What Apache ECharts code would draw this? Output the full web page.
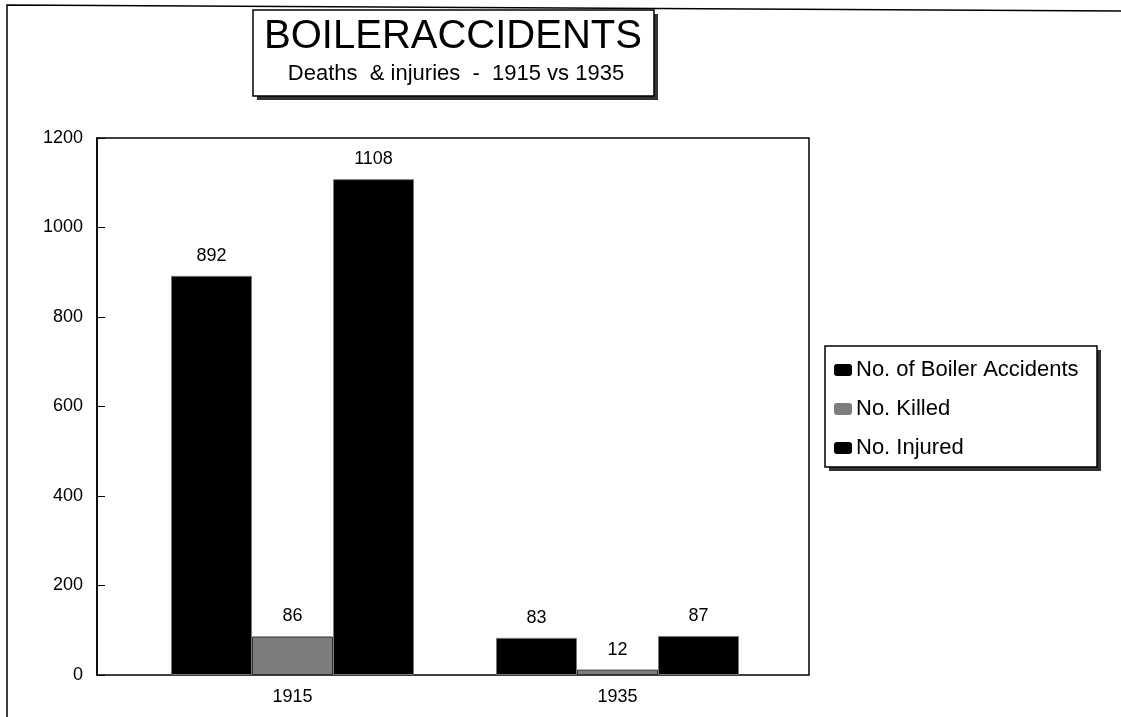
<!DOCTYPE html>
<html>
<head>
<meta charset="utf-8">
<script src="https://cdn.jsdelivr.net/npm/echarts@6/dist/echarts.min.js"></script>
<style>html,body{margin:0;padding:0;background:#fff}#c{width:1121px;height:717px}</style>
</head>
<body>
<div id="c"></div>
<script>
const categories = ['1915', '1935'];
const accidents = [892, 83];
const killed = [86, 12];
const injured = [1108, 87];
const seriesNames = ['No. of Boiler Accidents', 'No. Killed', 'No. Injured'];
const titleText = 'BOILERACCIDENTS';
const subtitleText = 'Deaths  & injuries  -  1915 vs 1935';

const FONT = '"Liberation Sans", Arial, sans-serif';
const chart = echarts.init(document.getElementById('c'), null, {renderer: 'canvas'});

const label = {show: true, position: 'top', distance: 11, color: '#000', fontSize: 18, fontFamily: FONT};
function bar(name, data, color, border) {
  return {
    name, type: 'bar', data, xAxisIndex: 1, yAxisIndex: 1,
    barWidth: 81, barGap: '0%',
    itemStyle: {color, borderColor: border, borderWidth: 1},
    label
  };
}

chart.setOption({
  animation: false,
  backgroundColor: '#fff',
  textStyle: {fontFamily: FONT},
  grid: [
    {left: 97, right: 312, top: 138, bottom: 42, show: true, borderColor: '#000', borderWidth: 1.5, backgroundColor: 'transparent'},
    {left: 130, right: 341, top: 138, bottom: 42}
  ],
  xAxis: [
    {type: 'value', gridIndex: 0, show: false, min: 0, max: 1},
    {type: 'category', gridIndex: 1, data: categories,
     axisLine: {show: false}, axisTick: {show: false},
     axisLabel: {color: '#000', fontSize: 18, fontFamily: FONT, margin: 13}}
  ],
  yAxis: [
    {type: 'value', gridIndex: 0, min: 0, max: 1200, interval: 200,
     axisLine: {show: true, lineStyle: {color: '#000', width: 1.5}},
     axisTick: {show: true, inside: true, length: 8, lineStyle: {color: '#000'}},
     splitLine: {show: false},
     axisLabel: {color: '#000', fontSize: 18, fontFamily: FONT, margin: 14, formatter: v => String(v)}},
    {type: 'value', gridIndex: 1, min: 0, max: 1200, show: false, splitLine: {show: false}}
  ],
  legend: {
    orient: 'vertical', left: 825, top: 346,
    data: seriesNames,
    itemWidth: 18, itemHeight: 12, itemGap: 17,
    padding: [13, 14, 13, 9],
    textStyle: {color: '#000', fontSize: 22, fontFamily: FONT, padding: [0, 0, 0, -1]},
    icon: 'roundRect',
    itemStyle: {borderWidth: 0}
  },
  series: [
    bar(seriesNames[0], accidents, '#000', '#777'),
    bar(seriesNames[1], killed, '#7d7d7d', '#333'),
    bar(seriesNames[2], injured, '#000', '#777')
  ],
  graphic: [
    {type: 'polyline', shape: {points: [[7, 717], [7, 5], [1121, 11]]}, style: {stroke: '#000', lineWidth: 1.5, fill: null}},
    {type: 'rect', shape: {x: 257, y: 14, width: 401, height: 86}, style: {fill: '#333'}},
    {type: 'rect', shape: {x: 253, y: 10, width: 401, height: 86}, style: {fill: '#fff', stroke: '#000', lineWidth: 1.5}},
    {type: 'text', x: 453, y: 37, style: {text: titleText, font: '40px ' + FONT, fill: '#000', textAlign: 'center', textVerticalAlign: 'middle'}},
    {type: 'text', x: 456, y: 74, style: {text: subtitleText, font: '22px ' + FONT, fill: '#000', textAlign: 'center', textVerticalAlign: 'middle'}},
    {type: 'rect', z: -1, shape: {x: 829, y: 350, width: 272, height: 121}, style: {fill: '#333'}},
    {type: 'rect', z: -1, shape: {x: 825, y: 346, width: 272, height: 121}, style: {fill: '#fff', stroke: '#000', lineWidth: 1.5}}
  ]
});
</script>
</body>
</html>
